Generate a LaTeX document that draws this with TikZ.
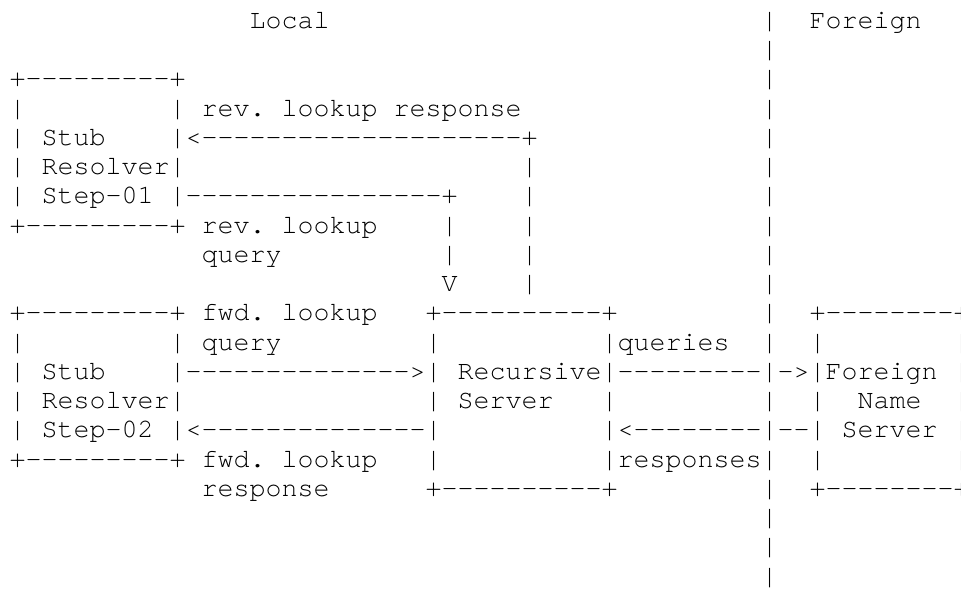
\documentclass[tikz,border=0pt]{standalone}
\usepackage{fontspec}
\setmonofont{TeX Gyre Cursor}
\frenchspacing
% a run of n hyphens
\ExplSyntaxOn
\cs_new:Npn \dashrun #1 { \prg_replicate:nn {#1} {-} }
\ExplSyntaxOff
% character grid: 16pt per column, 29.25pt per row
\tikzset{
  txt/.style={anchor=base west, inner sep=0pt, outer sep=0pt,
    font=\ttfamily\fontsize{26.67}{29.25}\selectfont, text=black}
}
\newcommand\frag[4]{\node[txt] (#1) at ({9.5+16*#2},{-(28.3+29.25*#3)}) {#4};}
\begin{document}
\begin{tikzpicture}[x=1pt,y=1pt]
\useasboundingbox (0,0) rectangle (961,-589);
\clip (0,0) rectangle (961,-589);
\fill[white] (0,0) rectangle (961,-589);
% headings and the local/foreign divider
\frag{local}{15}{0}{Local}
\frag{foreign}{50}{0}{Foreign}
\foreach \r in {0,...,11,13,15,16,17,18,19} {\frag{div\r}{47}{\r}{|}}
% stub resolver, step 01
\frag{sa0}{0}{2}{+\dashrun{9}+}
\frag{sa1}{0}{3}{|}
\frag{sa2}{10}{3}{| rev. lookup response}
\frag{sa3}{0}{4}{|}
\frag{sa4}{2}{4}{Stub}
\frag{sa5}{10}{4}{|<\dashrun{20}+}
\frag{sa6}{0}{5}{|}
\frag{sa7}{2}{5}{Resolver|}
\frag{sa8}{0}{6}{|}
\frag{sa9}{2}{6}{Step-01}
\frag{sa10}{10}{6}{|\dashrun{16}+}
\frag{sa11}{0}{7}{+\dashrun{9}+ rev. lookup}
\frag{sa12}{12}{8}{query}
% vertical legs between step 01 and the recursive server
\foreach \r in {5,...,9} {\frag{up\r}{32}{\r}{|}}
\foreach \r in {7,8} {\frag{dn\r}{27}{\r}{|}}
\frag{vhead}{27}{9}{V}
% stub resolver, step 02
\frag{sb0}{0}{10}{+\dashrun{9}+ fwd. lookup}
\frag{sb1}{0}{11}{|}
\frag{sb2}{10}{11}{| query}
\frag{sb3}{0}{12}{|}
\frag{sb4}{2}{12}{Stub}
\frag{sb5}{10}{12}{|\dashrun{14}>| Recursive|\dashrun{9}|->|Foreign}
\frag{sb6}{0}{13}{|}
\frag{sb7}{2}{13}{Resolver|}
\frag{sb8}{0}{14}{|}
\frag{sb9}{2}{14}{Step-02}
\frag{sb10}{10}{14}{|<\dashrun{14}|}
\frag{sb11}{0}{15}{+\dashrun{9}+ fwd. lookup}
\frag{sb12}{12}{16}{response}
% recursive server
\frag{rs0}{26}{10}{+\dashrun{10}+}
\frag{rs1}{26}{11}{|}
\frag{rs2}{37}{11}{|queries}
\frag{rs3}{26}{13}{|}
\frag{rs4}{28}{13}{Server}
\frag{rs5}{37}{13}{|}
\frag{rs6}{37}{14}{|<\dashrun{8}|\dashrun{2}|}
\frag{rs7}{26}{15}{|}
\frag{rs8}{37}{15}{|responses}
\frag{rs9}{26}{16}{+\dashrun{10}+}
% foreign name server
\frag{fn0}{50}{10}{+\dashrun{8}+}
\foreach \r in {11,13,15} {\frag{fl\r}{50}{\r}{|}}
\foreach \r in {11,...,15} {\frag{fr\r}{59}{\r}{|}}
\frag{fn1}{53}{13}{Name}
\frag{fn2}{52}{14}{Server}
\frag{fn3}{50}{16}{+\dashrun{8}+}
\end{tikzpicture}
\end{document}
